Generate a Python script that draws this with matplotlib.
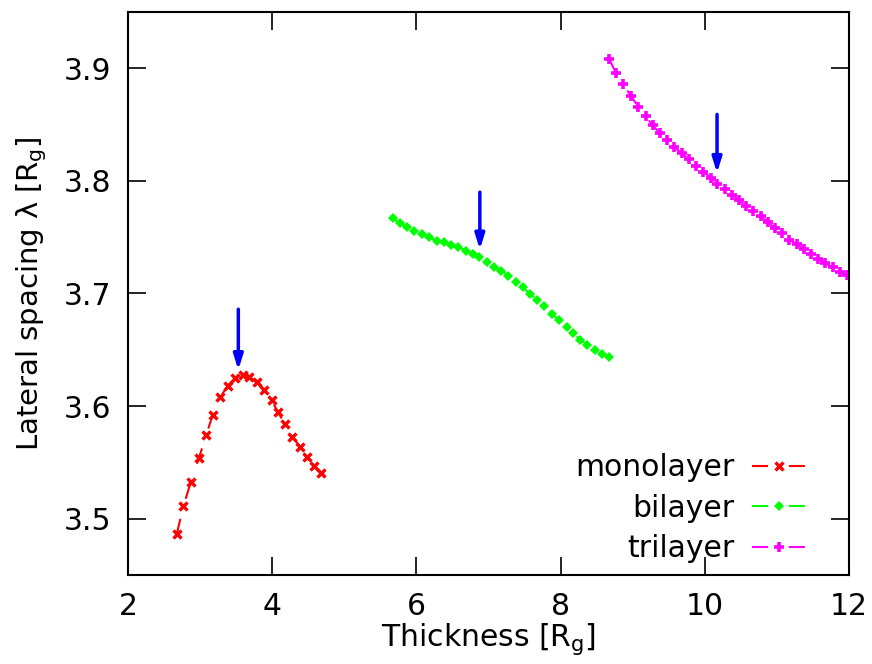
import numpy as np
import matplotlib
matplotlib.use("Agg")
import matplotlib.pyplot as plt

# data
mono_x = [2.675, 2.767, 2.874, 2.985, 3.082, 3.175, 3.28, 3.383, 3.484, 3.59, 3.683,
          3.785, 3.886, 3.993, 4.076, 4.178, 4.279, 4.386, 4.478, 4.58, 4.68]
mono_y = [3.486, 3.511, 3.533, 3.554, 3.574, 3.592, 3.608, 3.618, 3.625, 3.628, 3.626,
          3.621, 3.614, 3.605, 3.595, 3.584, 3.573, 3.564, 3.555, 3.547, 3.541]

bi_x = [5.671, 5.773, 5.874, 5.971, 6.078, 6.18, 6.282, 6.383, 6.48, 6.581, 6.688,
        6.78, 6.873, 6.975, 7.076, 7.178, 7.275, 7.377, 7.474, 7.576, 7.677, 7.774,
        7.876, 7.978, 8.084, 8.176, 8.269, 8.371, 8.477, 8.578, 8.675]
bi_y = [3.7667, 3.7626, 3.7587, 3.7558, 3.7528, 3.7498, 3.7469, 3.7454, 3.7434, 3.741,
        3.738, 3.735, 3.732, 3.7277, 3.7233, 3.7204, 3.7153, 3.7106, 3.7056, 3.6997,
        3.6944, 3.6885, 3.682, 3.6761, 3.6702, 3.6649, 3.659, 3.6546, 3.6502, 3.6466, 3.6436]

tri_x = [8.671, 8.768, 8.87, 8.972, 9.078, 9.18, 9.277, 9.379, 9.48, 9.577, 9.679,
         9.781, 9.878, 9.979, 10.081, 10.173, 10.276, 10.381, 10.474, 10.571, 10.673,
         10.774, 10.881, 10.974, 11.075, 11.172, 11.274, 11.376, 11.473, 11.57, 11.671,
         11.773, 11.875, 11.967]
tri_y = [3.9086, 3.8959, 3.8856, 3.8758, 3.8658, 3.8575, 3.8493, 3.8422, 3.836, 3.83,
         3.8245, 3.8192, 3.8133, 3.808, 3.8029, 3.7976, 3.7932, 3.7876, 3.7829, 3.7779,
         3.7735, 3.7684, 3.7631, 3.7578, 3.7534, 3.7478, 3.744, 3.7396, 3.7351, 3.7307,
         3.7268, 3.7233, 3.7195, 3.716]

# arrows: x, y_start, y_end
arrow_x = [3.53, 6.88, 10.17]
arrow_y0 = [3.686, 3.790, 3.859]
arrow_y1 = [3.632, 3.739, 3.807]

fs = 21.5
fig = plt.figure(figsize=(8.72, 6.64), dpi=100)
ax = fig.add_axes([0.1468, 0.134, 0.9736 - 0.1468, 0.982 - 0.134])

dash = (0, (7.7, 10))
ax.plot(mono_x, mono_y, color='#ff0000', linestyle=dash, lw=1.5, marker='x',
        ms=6, mew=2.4, label='monolayer')
ax.plot(bi_x, bi_y, color='#00ff00', linestyle=dash, lw=1.5, marker='D',
        ms=5, mew=0, label='bilayer')
ax.plot(tri_x, tri_y, color='#ff00ff', linestyle=dash, lw=1.5, marker='+',
        ms=6.5, mew=2.6, label='trilayer')

for x, y0, y1 in zip(arrow_x, arrow_y0, arrow_y1):
    ax.annotate('', xy=(x, y1), xytext=(x, y0),
                arrowprops=dict(arrowstyle='-|>,head_length=0.9,head_width=0.28',
                                color='#0000ff', lw=2.5, shrinkA=0, shrinkB=0))

ax.set_xlim(2, 12)
ax.set_ylim(3.45, 3.95)
ax.set_xticks([2, 4, 6, 8, 10, 12])
ax.set_yticks([3.5, 3.6, 3.7, 3.8, 3.9])
ax.tick_params(direction='in', length=13, width=1.2, labelsize=fs, pad=12,
               top=True, right=True)
for s in ax.spines.values():
    s.set_linewidth(1.5)

ax.set_xlabel('Thickness [R$_\\mathregular{g}$]', fontsize=fs, labelpad=0)
ax.set_ylabel('Lateral spacing λ [R$_\\mathregular{g}$]', fontsize=21, labelpad=10.5)

leg = ax.legend(loc='lower right', frameon=False, markerfirst=False, fontsize=fs,
                handlelength=1.8, handletextpad=0.6, labelspacing=0.38,
                borderaxespad=0.0, bbox_to_anchor=(0.957, 0.0))

fig.savefig('out.png', dpi=100)
